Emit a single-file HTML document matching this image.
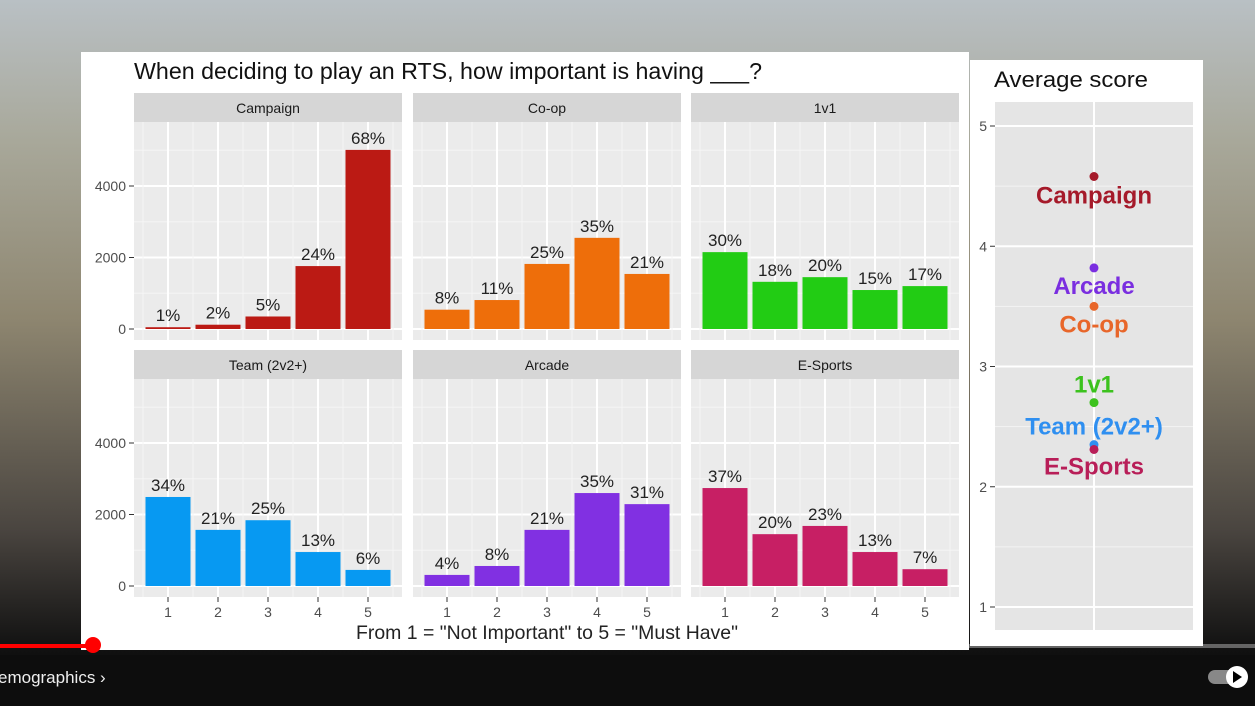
<!DOCTYPE html>
<html><head><meta charset="utf-8"><style>
body{margin:0;width:1255px;height:706px;overflow:hidden;font-family:"Liberation Sans",sans-serif;}
#bg{position:absolute;left:0;top:0;width:1255px;height:706px;background:linear-gradient(180deg,#b9c0c4 0%,#a8a89a 20%,#8e8670 45%,#4a4540 75%,#111 92%,#0a0a0a 100%);}
</style></head><body>
<div id="bg"></div>
<svg id="svg" width="1255" height="706" style="position:absolute;left:0;top:0">
<rect x="81" y="52" width="888" height="598" fill="#fff"/>
<rect x="970" y="60" width="233" height="586" fill="#fff"/>
<text x="134" y="79" font-size="23" textLength="628" lengthAdjust="spacingAndGlyphs" fill="#111">When deciding to play an RTS, how important is having ___?</text>
<text x="356" y="639" font-size="19" textLength="382" lengthAdjust="spacingAndGlyphs" fill="#222">From 1 = "Not Important" to 5 = "Must Have"</text>
<text x="994" y="87" font-size="22" textLength="154" lengthAdjust="spacingAndGlyphs" fill="#111">Average score</text>
<g id="facets"></g><g id="avg"></g>
<rect x="0" y="644" width="1255" height="4" fill="rgba(255,255,255,0.35)"/>
<rect x="0" y="644" width="93" height="4" fill="#f00"/>
<circle cx="93" cy="645" r="8" fill="#f00"/>
<rect x="0" y="655" width="1255" height="51" fill="#0d0d0d"/>
<text x="-2" y="683" font-size="17" fill="#eee">emographics ›</text>
<rect x="1208" y="670" width="30" height="14" rx="7" fill="#888"/>
<circle cx="1237" cy="677" r="11" fill="#fff"/>
<path d="M1233 671 L1242 677 L1233 683 Z" fill="#000"/>
</svg>
<script>
const facetNames=["Campaign","Co-op","1v1","Team (2v2+)","Arcade","E-Sports"];
const facetColors=["#bb1a14","#ee6e0a","#22cc14","#0799f2","#8130e2","#c71f64"];
const countsCampaign=[50,120,350,1760,5010];
const countsCoop=[540,810,1820,2550,1540];
const counts1v1=[2150,1320,1450,1090,1200];
const countsTeam=[2490,1570,1840,950,450];
const countsArcade=[310,560,1570,2600,2290];
const countsEsports=[2740,1450,1680,950,470];
const pctCampaign=["1%","2%","5%","24%","68%"];
const pctCoop=["8%","11%","25%","35%","21%"];
const pct1v1=["30%","18%","20%","15%","17%"];
const pctTeam=["34%","21%","25%","13%","6%"];
const pctArcade=["4%","8%","21%","35%","31%"];
const pctEsports=["37%","20%","23%","13%","7%"];
const yTicks=[0,2000,4000];
const xTicks=[1,2,3,4,5];
const avgNames=["Campaign","Arcade","Co-op","1v1","Team (2v2+)","E-Sports"];
const avgScores=[4.58,3.82,3.50,2.70,2.35,2.31];
const avgLabelPos=[4.42,3.67,3.35,2.85,2.50,2.17];
const avgColors=["#a51a2a","#7a2ee0","#e8662a","#3cc21e","#2f8ff0","#b81e58"];
const avgTicks=[1,2,3,4,5];

const NS="http://www.w3.org/2000/svg";
function el(t,a,p){const e=document.createElementNS(NS,t);for(const k in a)e.setAttribute(k,a[k]);p.appendChild(e);return e;}
const counts=[countsCampaign,countsCoop,counts1v1,countsTeam,countsArcade,countsEsports];
const pcts=[pctCampaign,pctCoop,pct1v1,pctTeam,pctArcade,pctEsports];
const colX=[134,413,691],rowY=[93,350];
const F=document.getElementById('facets');
for(let f=0;f<6;f++){
 const px=colX[f%3],py=rowY[Math.floor(f/3)],W=268;
 const top=py+29,bot=py+247,zero=py+236;
 const y=v=>zero-v*0.03575;
 const x=i=>px+34+(i-1)*50;
 const g=el('g',{},F);
 
 
 const s=el('rect',{x:px,y:py,width:W,height:29,fill:'#d6d6d6'},g);
 
 
 const st=el('text',{x:px+W/2,y:py+20,'font-size':14,fill:'#1a1a1a','text-anchor':'middle'},g);st.textContent=facetNames[f];
 
 
 el('rect',{x:px,y:top,width:W,height:bot-top,fill:'#ebebeb'},g);
 for(let v=1000;v<6000;v+=2000)el('line',{x1:px,x2:px+W,y1:y(v),y2:y(v),stroke:'#f5f5f5','stroke-width':1},g);
 for(const v of yTicks)el('line',{x1:px,x2:px+W,y1:y(v),y2:y(v),stroke:'#fff','stroke-width':2},g);
 for(let i=0.5;i<=5.5;i+=1)el('line',{x1:x(i),x2:x(i),y1:top,y2:bot,stroke:'#f5f5f5','stroke-width':1},g);
 for(const i of xTicks)el('line',{x1:x(i),x2:x(i),y1:top,y2:bot,stroke:'#fff','stroke-width':2},g);
 counts[f].forEach((v,i)=>{
  const b=el('rect',{x:x(i+1)-22.5,y:y(v),width:45,height:zero-y(v),fill:facetColors[f]},g);
  
  
  const t=el('text',{x:x(i+1),y:y(v)-6,'font-size':17,fill:'#222','text-anchor':'middle'},g);t.textContent=pcts[f][i];
  
  
 });
 if(f%3==0){for(const v of yTicks){
  el('line',{x1:px-5,x2:px,y1:y(v),y2:y(v),stroke:'#333'},g);
  const t=el('text',{x:px-8,y:y(v)+5,'font-size':14,fill:'#4d4d4d','text-anchor':'end'},g);t.textContent=v;
  
  
 }}
 if(f>=3){for(const i of xTicks){
  el('line',{x1:x(i),x2:x(i),y1:bot,y2:bot+5,stroke:'#333'},g);
  const t=el('text',{x:x(i),y:bot+20,'font-size':14,fill:'#4d4d4d','text-anchor':'middle'},g);t.textContent=i;
  
  
 }}
}
const A=document.getElementById('avg');
const ay=v=>607-(v-1)*120.25;
el('rect',{x:995,y:102,width:198,height:528,fill:'#e5e5e5'},A);
for(let v=1.5;v<5;v+=1)el('line',{x1:995,x2:1193,y1:ay(v),y2:ay(v),stroke:'#f3f3f3'},A);
for(const v of avgTicks){
 el('line',{x1:995,x2:1193,y1:ay(v),y2:ay(v),stroke:'#fff','stroke-width':2},A);
 el('line',{x1:990,x2:995,y1:ay(v),y2:ay(v),stroke:'#333'},A);
 const t=el('text',{x:987,y:ay(v)+5,'font-size':14,fill:'#4d4d4d','text-anchor':'end'},A);t.textContent=v;
 
 
}
el('line',{x1:1094,x2:1094,y1:102,y2:630,stroke:'#fff','stroke-width':2},A);
avgScores.forEach((v,i)=>{
 const c=el('circle',{cx:1094,cy:ay(v),r:4.5,fill:avgColors[i]},A);
 
 
 const t=el('text',{x:1094,y:ay(avgLabelPos[i])+8,'font-size':24,'font-weight':'bold',fill:avgColors[i],'text-anchor':'middle'},A);t.textContent=avgNames[i];
 
 
});
</script>
</body></html>
